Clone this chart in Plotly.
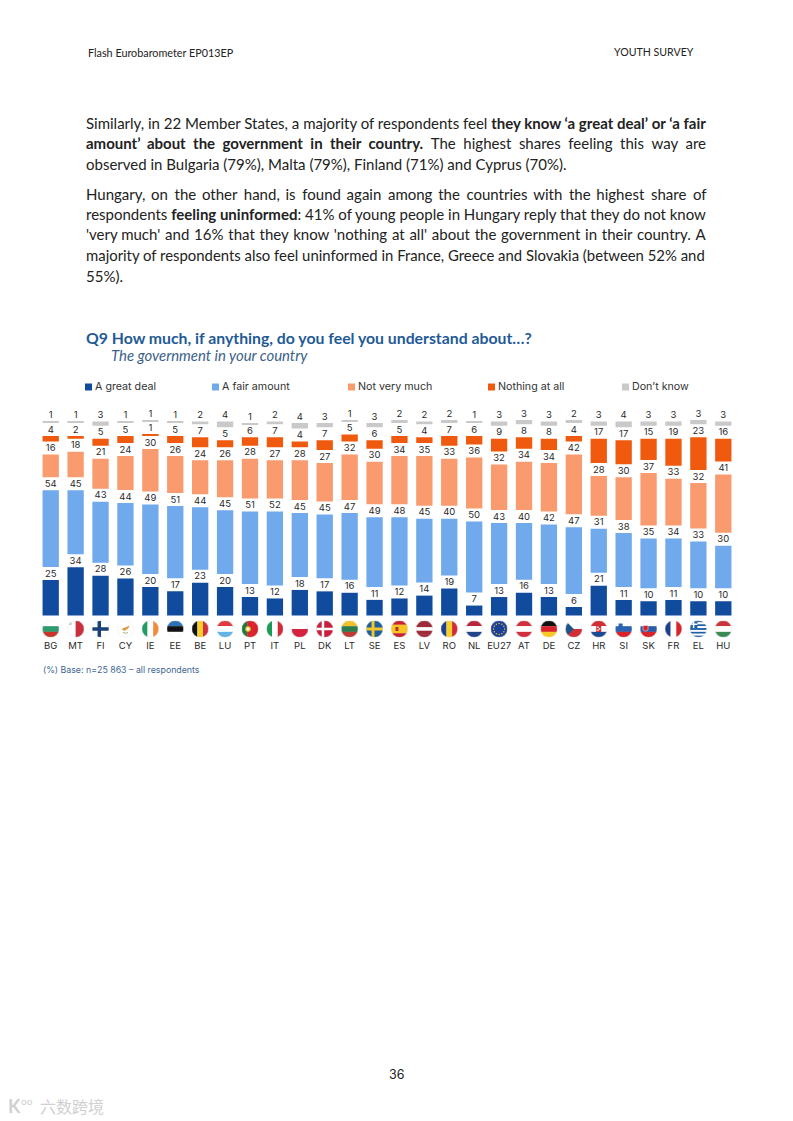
import base64
import plotly.graph_objects as go

countries = ["BG","MT","FI","CY","IE","EE","BE","LU","PT","IT","PL","DK","LT","SE","ES","LV","RO","NL","EU27","AT","DE","CZ","HR","SI","SK","FR","EL","HU"]
great_deal = [25,34,28,26,20,17,23,20,13,12,18,17,16,11,12,14,19,7,13,16,13,6,21,11,10,11,10,10]
fair_amount = [54,45,43,44,49,51,44,45,51,52,45,45,47,49,48,45,40,50,43,40,42,47,31,38,35,34,33,30]
not_very_much = [16,18,21,24,30,26,24,26,28,27,28,27,32,30,34,35,33,36,32,34,34,42,28,30,37,33,32,41]
nothing_at_all = [4,2,5,5,1,5,7,5,6,7,4,7,5,6,5,4,7,6,9,8,8,4,17,17,15,19,23,16]
dont_know = [1,1,3,1,1,1,2,4,1,2,4,3,1,3,2,2,2,1,3,3,3,2,3,4,3,3,3,3]

series_names = ["A great deal","A fair amount","Not very much","Nothing at all","Don’t know"]
series_values = [great_deal, fair_amount, not_very_much, nothing_at_all, dont_know]
series_colors = ["#114b9e","#70a9ec","#f99b6e","#ef5a0e","#c9c9c9"]
legend_px = [85,212,348,488,622]

W, H = 793, 1121
PX_PER_UNIT = 1.42
ZERO_PX, TOP_PX, BOTTOM_PX = 615.5, 405, 638
GAP = 13 / PX_PER_UNIT
LABEL_LIFT = 1 / PX_PER_UNIT
LEFT_PX, RIGHT_PX = 38.25, 735.75
TEXT = "#222222"
FONT = "Lato"
CHART_FONT = "Inter"

def px(x): return x / W
def py(y): return 1 - y / H

fig = go.Figure()
for k, (name, vals, col) in enumerate(zip(series_names, series_values, series_colors)):
    base = [sum(series_values[j][i] for j in range(k)) + k * GAP for i in range(len(countries))]
    fig.add_trace(go.Bar(x=list(range(len(countries))), y=vals, base=base, name=name,
                         marker=dict(color=col, line=dict(width=0)), width=0.655, showlegend=False))
    fig.add_trace(go.Scatter(x=list(range(len(countries))), y=[b + v + LABEL_LIFT for b, v in zip(base, vals)],
                             mode="text", text=[str(v) for v in vals], textposition="top center",
                             textfont=dict(family=CHART_FONT, size=9.5, color="#2a2a2a"),
                             showlegend=False, cliponaxis=False, hoverinfo="skip"))

def clip(body):
    return ('<svg xmlns="http://www.w3.org/2000/svg" viewBox="0 0 34 34"><defs><clipPath id="c"><circle cx="17" cy="17" r="17"/></clipPath></defs>'
            '<g clip-path="url(#c)"><rect width="34" height="34" fill="#fff"/>' + body +
            '</g><circle cx="17" cy="17" r="16.6" fill="none" stroke="#e4e4e4" stroke-width="0.8"/></svg>')
def h(*c):
    s = 34 / len(c)
    return "".join(f'<rect y="{i*s}" width="34" height="{s+0.2}" fill="{x}"/>' for i, x in enumerate(c))
def v(*c):
    s = 34 / len(c)
    return "".join(f'<rect x="{i*s}" width="{s+0.2}" height="34" fill="{x}"/>' for i, x in enumerate(c))
def cross(bg, fg, t=7, x=11):
    return (f'<rect width="34" height="34" fill="{bg}"/><rect x="{x}" width="{t}" height="34" fill="{fg}"/>'
            f'<rect y="{17-t/2}" width="34" height="{t}" fill="{fg}"/>')
eu_stars = "".join(f'<circle cx="{x}" cy="{y}" r="1.4" fill="#f6d21f"/>' for x, y in
                   [(17,6),(22.5,7.5),(26.5,11.5),(28,17),(26.5,22.5),(22.5,26.5),(17,28),(11.5,26.5),(7.5,22.5),(6,17),(7.5,11.5),(11.5,7.5)])
gr = "".join(f'<rect y="{i*3.78}" width="34" height="3.78" fill="{"#1d5fa8" if i%2==0 else "#fff"}"/>' for i in range(9)) + \
     '<rect width="15" height="15.1" fill="#1d5fa8"/><rect x="6" width="3" height="15.1" fill="#fff"/><rect y="6" width="15" height="3" fill="#fff"/>'
flags = {
 "BG": h("#fff","#2f9a6e","#c8352b"),
 "MT": v("#fff","#c9303e") + '<rect x="3" y="3" width="6" height="6" fill="#c9c9c9"/>',
 "FI": cross("#fff","#1b3f77"),
 "CY": '<path d="M9 17 L16 14 L26 10 L22 16 L15 21 Z" fill="#d99a3e"/><path d="M12 24 Q17 27 22 24" stroke="#7d9a55" fill="none" stroke-width="1.5"/>',
 "IE": v("#219a63","#fff","#f28a3c"),
 "EE": h("#2d72b8","#111","#fff"),
 "BE": v("#111","#f5cf2c","#d1303c"),
 "LU": h("#e0393e","#fff","#62b3e6"),
 "PT": v("#1c7a3e","#d8232a","#d8232a") + '<circle cx="13" cy="17" r="5.5" fill="#efc53a"/><circle cx="13" cy="17" r="3" fill="#fff"/>',
 "IT": v("#199a57","#fff","#cf2b38"),
 "PL": h("#fff","#d5233f"),
 "DK": cross("#c8203c","#fff",5),
 "LT": h("#f2c02c","#2a7d4f","#be3a34"),
 "SE": cross("#1e5e9a","#f2c62e",6),
 "ES": h("#c8202f","#f5c526","#f5c526","#c8202f") + '<rect x="9" y="13" width="6" height="8" fill="#b5322c"/>',
 "LV": h("#9e2b3a","#9e2b3a","#fff","#9e2b3a","#9e2b3a"),
 "RO": v("#1c3f8f","#f5cf2c","#cf2b38"),
 "NL": h("#b8263a","#fff","#21468b"),
 "EU27": '<rect width="34" height="34" fill="#1c3f9a"/>' + eu_stars,
 "AT": h("#d2303e","#fff","#d2303e"),
 "DE": h("#111","#d8232a","#f8c925"),
 "CZ": '<rect width="34" height="17" fill="#fff"/><rect y="17" width="34" height="17" fill="#d02f35"/><path d="M0 0 L17 17 L0 34 Z" fill="#1c5488"/>',
 "HR": h("#d02f35","#fff","#1c4a94") + '<rect x="12" y="10" width="10" height="13" fill="#d02f35"/><rect x="14" y="12" width="3" height="3" fill="#fff"/><rect x="17" y="15" width="3" height="3" fill="#fff"/><rect x="14" y="18" width="3" height="3" fill="#fff"/>',
 "SI": h("#fff","#2a62b0","#d8232a") + '<path d="M7 6 h8 v7 q-4 4 -8 0 z" fill="#2a62b0"/>',
 "SK": h("#fff","#2a5caa","#d8232a") + '<path d="M6 10 h10 v9 q-5 5 -10 0 z" fill="#d8232a" stroke="#fff"/>',
 "FR": v("#1e3f8f","#fff","#d8232a"),
 "EL": gr,
 "HU": h("#c8363c","#fff","#3a8a55"),
}
flag_px = 17
images = []
for i, c in enumerate(countries):
    uri = "data:image/svg+xml;base64," + base64.b64encode(clip(flags[c]).encode()).decode()
    images.append(dict(source=uri, xref="x", yref="y", x=i, y=-(629 - ZERO_PX) / PX_PER_UNIT,
                       sizex=flag_px / ((RIGHT_PX - LEFT_PX) / len(countries)), sizey=flag_px / PX_PER_UNIT,
                       xanchor="center", yanchor="middle", sizing="stretch", layer="above"))

annotations = []
def note(x, y, text, size=13, color=TEXT, anchor="left", family=FONT):
    annotations.append(dict(x=px(x), y=py(y), xref="paper", yref="paper", text=text, showarrow=False,
                            xanchor=anchor, yanchor="middle", align="left", borderpad=0,
                            font=dict(family=family, size=size, color=color)))

def spread(text, hairs):
    """Share a number of hair spaces over the word gaps of a justified line."""
    parts = text.split(" ")
    gaps = len(parts) - 1
    out = parts[0]
    for i, word in enumerate(parts[1:]):
        n = hairs * (i + 1) // gaps - hairs * i // gaps
        out += " " + "\u200a" * n + word
    return out

note(87, 52.5, "Flash Eurobarometer EP013EP", 10.8)
note(695, 52.5, "YOUTH SURVEY", 10.6, anchor="right")
body = [
 (123, 15, 0, "Similarly, in 22 Member States, a majority of respondents feel <b>they know ‘a great deal’ or ‘a fair</b>"),
 (143, 15, 51, "<b>amount’ about the government in their country.</b> The highest shares feeling this way are"),
 (163.5, 15, 0, "observed in Bulgaria (79%), Malta (79%), Finland (71%) and Cyprus (70%)."),
 (194, 15, 38, "Hungary, on the other hand, is found again among the countries with the highest share of"),
 (214, 15, 0, "respondents <b>feeling uninformed</b>: 41% of young people in Hungary reply that they do not know"),
 (234.5, 15, 15, "'very much' and 16% that they know 'nothing at all' about the government in their country. A"),
 (255, 14.88, 0, "majority of respondents also feel uninformed in France, Greece and Slovakia (between 52% and"),
 (275.5, 15, 0, "55%)."),
]
for y, size, hairs, t in body:
    note(85, y, spread(t, hairs), size)
note(85, 338, "<b>Q9 How much, if anything, do you feel you understand about…?</b>", 15.8, "#1f5a96")
note(110, 355, "<i>The government in your country</i>", 14.9, "#3b5f8a")
note(42, 669, "(%) Base: n=25 863 – all respondents", 8.8, "#3f6796", family=CHART_FONT)
note(396.5, 1074.5, "36", 12.5, anchor="center", family=CHART_FONT)
note(39, 1105.5, "六数跨境", 16, "#d0d0d0", family="Noto Sans CJK SC")
note(7, 1105.5, "<b>K</b>", 18, "#d0d0d0")
note(20, 1100.5, "oo", 10, "#d0d0d0")

shapes = []
for lx, name, col in zip(legend_px, series_names, series_colors):
    shapes.append(dict(type="rect", xref="paper", yref="paper", x0=px(lx), x1=px(lx + 7),
                       y0=py(390.5), y1=py(383.5), fillcolor=col, line=dict(width=0)))
    note(lx + 9, 387, name, 10.7, "#333333", family=CHART_FONT)

fig.update_layout(
    width=W, height=H, margin=dict(l=0, r=0, t=0, b=0),
    paper_bgcolor="white", plot_bgcolor="white", barmode="overlay", showlegend=False,
    xaxis=dict(domain=[px(LEFT_PX), px(RIGHT_PX)], range=[-0.5, len(countries) - 0.5],
               tickmode="array", tickvals=list(range(len(countries))), ticktext=countries,
               showgrid=False, zeroline=False, showline=False, ticks="", ticklen=0,
               tickfont=dict(family=CHART_FONT, size=9.5, color="#2a2a2a")),
    yaxis=dict(domain=[py(BOTTOM_PX), py(TOP_PX)],
               range=[-(BOTTOM_PX - ZERO_PX) / PX_PER_UNIT, (ZERO_PX - TOP_PX) / PX_PER_UNIT],
               showgrid=False, zeroline=False, showline=False, showticklabels=False, ticks=""),
    images=images, annotations=annotations, shapes=shapes,
)
fig.write_html("out.html", config=dict(displayModeBar=False),
               post_script="document.body.style.margin='0';")
